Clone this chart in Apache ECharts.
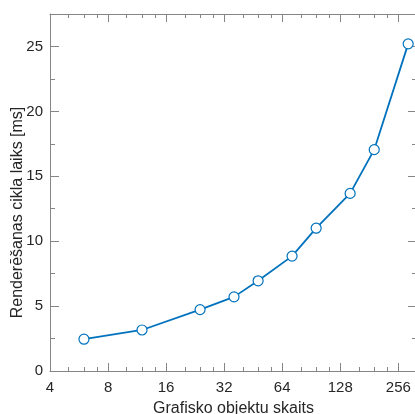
<!DOCTYPE html>
<html>
<head>
<meta charset="utf-8">
<script src="https://cdn.jsdelivr.net/npm/echarts@6/dist/echarts.min.js"></script>
<style>html,body{margin:0;padding:0;background:#fff;}#c{width:415px;height:414px;}</style>
</head>
<body>
<div id="c"></div>
<script>
const objectCounts = [6, 12, 24, 36, 48, 72, 96, 144, 192, 288];
const renderTimes = [2.45, 3.16, 4.73, 5.71, 6.95, 8.85, 11.0, 13.68, 17.05, 25.2];
const xMin = 4, xMax = 320;
const xMinorTicks = [5, 6, 7, 10, 12, 14, 20, 24, 28, 40, 48, 56, 80, 96, 112, 160, 192, 224];
const yMinorTicks = [2.5, 7.5, 12.5, 17.5, 22.5];
const yMin = 0, yMax = 27.5, yInterval = 5;
const xTitle = 'Grafisko objektu skaits';
const yTitle = 'Renderēšanas cikla laiks [ms]';

const axisColor = '#858585';
const textColor = '#262626';
const font = 'Liberation Sans, Arial, Helvetica, sans-serif';
const lx = v => Math.log2(v);

function logAxis(pos, showLabels) {
  return {
    type: 'log', logBase: 2, min: xMin, max: xMax, position: pos,
    name: showLabels ? xTitle : '', nameLocation: 'middle', nameGap: 30, nameMoveOverlap: false,
    nameTextStyle: { color: textColor, fontSize: 16, fontFamily: font },
    axisLine: { show: true, onZero: false, lineStyle: { color: axisColor, width: 1 } },
    axisTick: { show: true, inside: true, length: 8, lineStyle: { color: axisColor } },
    axisLabel: { show: showLabels, color: textColor, fontSize: 15, fontFamily: font, margin: 9, showMaxLabel: false },
    splitLine: { show: false }, minorTick: { show: false }
  };
}
function minorXAxis(pos) {
  return {
    type: 'value', min: lx(xMin), max: lx(xMax), position: pos,
    axisLine: { show: false, onZero: false },
    axisTick: { show: true, inside: true, length: 4, customValues: xMinorTicks.map(lx), lineStyle: { color: axisColor } },
    axisLabel: { show: false }, splitLine: { show: false }
  };
}
function valAxis(pos, showLabels) {
  return {
    type: 'value', min: yMin, max: yMax, interval: yInterval, position: pos,
    name: showLabels ? yTitle : '', nameLocation: 'middle', nameGap: 24, nameMoveOverlap: false,
    nameTextStyle: { color: textColor, fontSize: 16, fontFamily: font, padding: [0, 40, 0, 0] },
    axisLine: { show: true, onZero: false, lineStyle: { color: axisColor, width: 1 } },
    axisTick: { show: true, inside: true, length: 9, lineStyle: { color: axisColor } },
    axisLabel: { show: showLabels, color: textColor, fontSize: 15, fontFamily: font, margin: 7, showMaxLabel: false },
    splitLine: { show: false }
  };
}
function minorYAxis(pos) {
  return {
    type: 'value', min: yMin, max: yMax, position: pos,
    axisLine: { show: false, onZero: false },
    axisTick: { show: true, inside: true, length: 5, customValues: yMinorTicks, lineStyle: { color: axisColor } },
    axisLabel: { show: false }, splitLine: { show: false }
  };
}

const chart = echarts.init(document.getElementById('c'), null, { renderer: 'canvas' });
chart.setOption({
  animation: false,
  backgroundColor: '#fff',
  grid: { left: 50, top: 14, right: -2, bottom: 43, containLabel: false, outerBoundsMode: 'none' },
  xAxis: [logAxis('bottom', true), minorXAxis('bottom'), logAxis('top', false), minorXAxis('top')],
  yAxis: [valAxis('left', true), minorYAxis('left'), valAxis('right', false), minorYAxis('right')],
  series: [{
    type: 'line', xAxisIndex: 0, yAxisIndex: 0,
    data: objectCounts.map((x, i) => [x, renderTimes[i]]),
    symbol: 'circle', symbolSize: 10,
    lineStyle: { color: '#0072BD', width: 1.8 },
    itemStyle: { color: '#ffffff', borderColor: '#0072BD', borderWidth: 1.2 }
  }]
});
</script>
</body>
</html>
